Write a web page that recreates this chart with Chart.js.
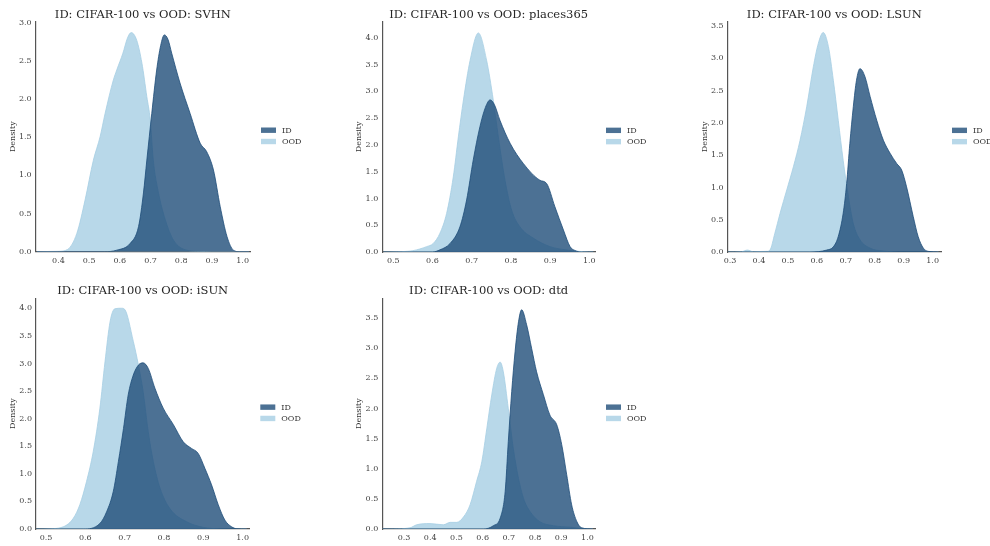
<!DOCTYPE html>
<html>
<head>
<meta charset="utf-8">
<script src="https://cdn.jsdelivr.net/npm/chart.js@4.4.1/dist/chart.umd.min.js"></script>
<style>
  html, body { margin: 0; padding: 0; background: #ffffff; }
  #wrap { position: relative; width: 990px; height: 546px; overflow: hidden; }
  #wrap canvas { position: absolute; }
</style>
</head>
<body>
<div id="wrap"></div>
<script>
// ---------------- DATA ----------------
const seriesNames = ['ID', 'OOD'];
const panelTitles = [
  'ID: CIFAR-100 vs OOD: SVHN',
  'ID: CIFAR-100 vs OOD: places365',
  'ID: CIFAR-100 vs OOD: LSUN',
  'ID: CIFAR-100 vs OOD: iSUN',
  'ID: CIFAR-100 vs OOD: dtd'
];

// [score, density] pairs of each KDE curve
const svhnID = [[0.33,0],[0.55,0],[0.59,0.02],[0.634,0.11],[0.661,0.33],[0.677,0.77],[0.688,1.2],[0.704,1.81],[0.72,2.38],[0.733,2.7],[0.745,2.84],[0.757,2.78],[0.769,2.6],[0.796,2.21],[0.829,1.81],[0.862,1.42],[0.883,1.31],[0.905,1.07],[0.927,0.59],[0.949,0.2],[0.97,0.02],[0.99,0],[1.02,0]];
const svhnOOD = [[0.33,0],[0.40,0.005],[0.43,0.03],[0.46,0.24],[0.487,0.68],[0.514,1.2],[0.536,1.51],[0.552,1.81],[0.579,2.25],[0.59,2.38],[0.61,2.6],[0.625,2.8],[0.637,2.87],[0.655,2.77],[0.672,2.47],[0.688,2.03],[0.699,1.73],[0.709,1.2],[0.726,0.77],[0.748,0.42],[0.775,0.15],[0.818,0.02],[0.86,0.005],[0.9,0],[1.02,0]];

const placesID = [[0.475,0],[0.6,0],[0.619,0.04],[0.645,0.16],[0.67,0.47],[0.687,0.97],[0.704,1.72],[0.721,2.34],[0.735,2.7],[0.747,2.84],[0.758,2.75],[0.772,2.46],[0.798,2.03],[0.832,1.65],[0.874,1.34],[0.891,1.28],[0.912,0.85],[0.934,0.41],[0.951,0.1],[0.963,0.03],[0.98,0],[1.01,0]];
const placesOOD = [[0.475,0],[0.51,0.005],[0.55,0.025],[0.585,0.1],[0.602,0.16],[0.619,0.35],[0.636,0.72],[0.653,1.4],[0.666,2.15],[0.679,2.84],[0.696,3.58],[0.717,4.09],[0.738,3.58],[0.755,2.84],[0.768,2.15],[0.785,1.34],[0.802,0.78],[0.823,0.47],[0.857,0.26],[0.9,0.1],[0.94,0.04],[0.985,0.005],[1.01,0]];

const lsunID = [[0.292,0],[0.576,0],[0.634,0.03],[0.657,0.08],[0.674,0.24],[0.691,0.6],[0.703,1.06],[0.714,1.68],[0.726,2.25],[0.737,2.66],[0.749,2.84],[0.766,2.72],[0.784,2.41],[0.807,2.04],[0.83,1.73],[0.853,1.53],[0.876,1.37],[0.893,1.27],[0.91,1.01],[0.933,0.55],[0.95,0.24],[0.968,0.06],[0.985,0.01],[1.02,0]];
const lsunOOD = [[0.292,0],[0.34,0.005],[0.36,0.03],[0.38,0.005],[0.427,0.01],[0.438,0.03],[0.455,0.29],[0.473,0.6],[0.496,0.96],[0.519,1.32],[0.542,1.73],[0.565,2.25],[0.588,2.87],[0.605,3.23],[0.622,3.4],[0.64,3.18],[0.657,2.66],[0.674,2.04],[0.691,1.42],[0.709,0.86],[0.726,0.44],[0.749,0.19],[0.784,0.06],[0.83,0.015],[0.9,0],[1.02,0]];

const isunID = [[0.475,0],[0.595,0],[0.637,0.1],[0.654,0.31],[0.671,0.68],[0.684,1.22],[0.697,1.82],[0.709,2.43],[0.722,2.79],[0.735,2.97],[0.747,3.01],[0.76,2.91],[0.777,2.55],[0.798,2.19],[0.824,1.89],[0.849,1.58],[0.87,1.46],[0.887,1.37],[0.904,1.1],[0.921,0.8],[0.938,0.44],[0.955,0.16],[0.972,0.04],[0.985,0.005],[1.01,0]];
const isunOOD = [[0.475,0],[0.51,0.005],[0.544,0.04],[0.569,0.19],[0.586,0.44],[0.603,0.86],[0.62,1.4],[0.637,2.19],[0.65,3.03],[0.663,3.76],[0.675,3.99],[0.692,4.0],[0.7,3.98],[0.722,3.4],[0.735,2.97],[0.747,2.49],[0.76,1.76],[0.773,1.22],[0.79,0.74],[0.815,0.37],[0.858,0.13],[0.9,0.03],[0.94,0.005],[1.01,0]];

const dtdID = [[0.217,0],[0.603,0],[0.641,0.055],[0.667,0.18],[0.686,0.62],[0.698,1.45],[0.711,2.28],[0.724,2.95],[0.737,3.44],[0.749,3.64],[0.768,3.39],[0.787,3.0],[0.806,2.61],[0.832,2.23],[0.857,1.89],[0.883,1.73],[0.902,1.4],[0.921,0.9],[0.94,0.4],[0.96,0.12],[0.978,0.02],[1.02,0]];
const dtdOOD = [[0.217,0],[0.259,0.002],[0.323,0.02],[0.348,0.07],[0.399,0.09],[0.45,0.07],[0.476,0.11],[0.501,0.11],[0.527,0.2],[0.552,0.4],[0.577,0.79],[0.597,1.12],[0.616,1.67],[0.635,2.23],[0.654,2.67],[0.667,2.77],[0.679,2.61],[0.698,2.0],[0.717,1.34],[0.737,0.84],[0.756,0.51],[0.781,0.29],[0.819,0.12],[0.87,0.055],[0.934,0.03],[0.985,0.005],[1.02,0]];

// axis ranges
const xMins = [0.326, 0.472, 0.292, 0.4745, 0.217];
const xMaxs = [1.024, 1.0145, 1.029, 1.017, 1.029];
const yMaxs = [3.013, 4.30, 3.567, 4.18, 3.83];
const xTickStep = 0.1;
const yTickStep = 0.5;

// ---------------- LAYOUT / STYLE ----------------
const FONT = '"DejaVu Serif", "Liberation Serif", serif';
const ID_COLOR = 'rgba(31,78,121,0.8)';
const OOD_COLOR = 'rgba(166,206,227,0.8)';
const YW = 28, XH = 18;
// plot-area boxes in page pixels: [left, top, right, bottom]
const areas = [
  [35.7, 21.7, 250, 251.7],
  [382.3, 21.7, 595, 252],
  [727.7, 21.7, 941, 252],
  [36, 298.3, 249.3, 529],
  [382.3, 298.3, 595, 529]
];
// canvas boxes: [x0, y0, w, h]
const canvases = [
  [0, 0, 330, 272],
  [330, 0, 330, 272],
  [660, 0, 330, 272],
  [0, 274, 330, 272],
  [330, 274, 330, 272]
];

const seriesPerPanel = [
  [svhnID, svhnOOD],
  [placesID, placesOOD],
  [lsunID, lsunOOD],
  [isunID, isunOOD],
  [dtdID, dtdOOD]
];

const decoPlugin = {
  id: 'panelDeco',
  afterDraw(chart, args, opts) {
    const ctx = chart.ctx, a = chart.chartArea;
    ctx.save();
    ctx.font = '11.5px ' + FONT;
    ctx.fillStyle = '#262626';
    ctx.textAlign = 'center';
    ctx.textBaseline = 'alphabetic';
    ctx.fillText(opts.title, (a.left + a.right) / 2, a.top - 4);
    const mid = (a.top + a.bottom) / 2;
    const items = [[seriesNames[0], ID_COLOR, -6.5], [seriesNames[1], OOD_COLOR, 4.8]];
    ctx.font = '8px ' + FONT;
    ctx.textAlign = 'left';
    ctx.textBaseline = 'middle';
    items.forEach(([label, color, dy]) => {
      ctx.fillStyle = color;
      ctx.fillRect(a.right + 11, mid + dy - 2.7, 15, 5.4);
      ctx.fillStyle = '#333333';
      ctx.fillText(label, a.right + 32, mid + dy + 0.5);
    });
    ctx.restore();
  }
};

function stepFilter(step) {
  return (scale) => {
    scale.ticks = scale.ticks.filter(t => Math.abs(t.value / step - Math.round(t.value / step)) < 1e-6);
  };
}

const wrap = document.getElementById('wrap');
for (let i = 0; i < 5; i++) {
  const [x0, y0, w, h] = canvases[i];
  const [L, T, R, B] = areas[i];
  const cv = document.createElement('canvas');
  cv.width = w; cv.height = h;
  cv.style.left = x0 + 'px'; cv.style.top = y0 + 'px';
  cv.style.width = w + 'px'; cv.style.height = h + 'px';
  wrap.appendChild(cv);
  const [idPts, oodPts] = seriesPerPanel[i];
  new Chart(cv, {
    type: 'line',
    data: {
      datasets: [
        {
          label: seriesNames[0],
          data: idPts.map(([x, y]) => ({ x, y })),
          fill: 'origin',
          backgroundColor: ID_COLOR,
          borderColor: ID_COLOR,
          borderWidth: 1,
          pointRadius: 0,
          cubicInterpolationMode: 'monotone'
        },
        {
          label: seriesNames[1],
          data: oodPts.map(([x, y]) => ({ x, y })),
          fill: 'origin',
          backgroundColor: OOD_COLOR,
          borderColor: OOD_COLOR,
          borderWidth: 1,
          pointRadius: 0,
          cubicInterpolationMode: 'monotone'
        }
      ]
    },
    options: {
      responsive: false,
      maintainAspectRatio: false,
      devicePixelRatio: 1,
      animation: false,
      events: [],
      layout: {
        padding: { left: L - x0 - YW, top: T - y0, right: x0 + w - R, bottom: y0 + h - B - XH }
      },
      plugins: {
        legend: { display: false },
        tooltip: { enabled: false },
        title: { display: false },
        panelDeco: { title: panelTitles[i] }
      },
      scales: {
        x: {
          type: 'linear',
          min: xMins[i],
          max: xMaxs[i],
          afterBuildTicks: stepFilter(xTickStep),
          afterFit: (s) => { s.height = XH; },
          grid: { display: false, drawTicks: false },
          border: { display: true, color: '#555555', width: 1.2 },
          ticks: {
            stepSize: xTickStep,
            includeBounds: false,
            autoSkip: false,
            maxRotation: 0,
            padding: 4,
            color: '#444444',
            font: { family: FONT, size: 8 },
            callback: (v) => Number(v).toFixed(1)
          }
        },
        y: {
          type: 'linear',
          min: 0,
          max: yMaxs[i],
          afterBuildTicks: stepFilter(yTickStep),
          afterFit: (s) => { s.width = YW; },
          grid: { display: false, drawTicks: false },
          border: { display: true, color: '#555555', width: 1.2 },
          title: { display: true, text: 'Density', color: '#333333', font: { family: FONT, size: 8 }, padding: 0 },
          ticks: {
            stepSize: yTickStep,
            includeBounds: false,
            autoSkip: false,
            padding: 4,
            color: '#444444',
            font: { family: FONT, size: 8 },
            callback: (v) => Number(v).toFixed(1)
          }
        }
      }
    },
    plugins: [decoPlugin]
  });
}
</script>
</body>
</html>
